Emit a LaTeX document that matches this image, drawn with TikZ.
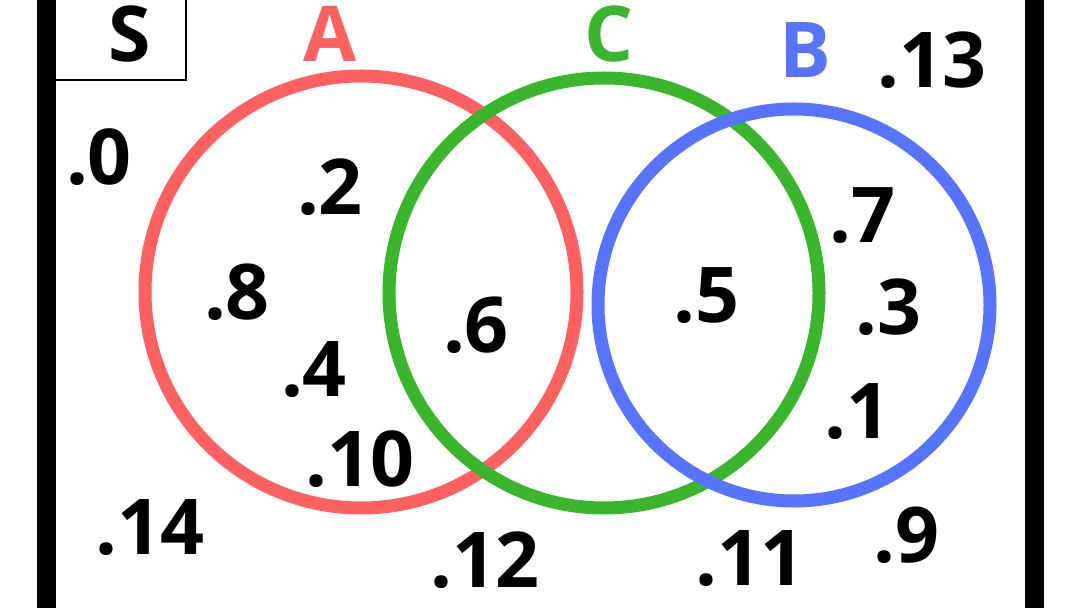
\documentclass[tikz,border=0pt]{standalone}
\usepackage{fontspec}
\setmainfont{Open Sans}
\usepackage{tikz}
\usetikzlibrary{positioning}
\definecolor{vennRed}{RGB}{255,96,96}
\definecolor{vennGreen}{RGB}{58,182,44}
\definecolor{vennBlue}{RGB}{86,116,255}

\begin{document}
\begin{tikzpicture}[x=0.5pt,y=-0.5pt,
  num/.style={anchor=base,inner sep=0pt,font=\fontsize{38.5}{46}\selectfont\bfseries},
  ring/.style={line width=6.5pt},
  bar/.style={fill=black,draw=none}]
  \useasboundingbox (0,0) rectangle (1080,608);
  % frame of the sample space
  \fill[bar] (37,0) rectangle (56,608);
  \fill[bar] (1025,0) rectangle (1044,608);
  \draw[line width=1.25pt] (55,-5) -- (186,-5) -- (186,80) -- (55,80);
  \node[num] (s) at (130,62) {S};
  % circles
  \coordinate (ca) at (361,292);
  \coordinate (cc) at (604,293);
  \coordinate (cb) at (794,305);
  \draw[ring,draw=vennRed] (ca) circle[radius=216];
  \draw[ring,draw=vennGreen] (cc) circle[radius=215];
  \draw[ring,draw=vennBlue] (cb) circle[radius=196];
  \node[num,text=vennRed] (la) at (330,62) {A};
  \node[num,text=vennGreen] (lc) at (609,62) {C};
  \node[num,text=vennBlue] (lb) at (805,78) {B};
  % outcomes
  \node[num] (n13) at (932,88) {.13};
  \node[num] (n0) at (99,185) {.0};
  \node[num] (n2) at (330,215) {.2};
  \node[num] (n8) at (237,320) {.8};
  \node[num] (n4) at (314,397) {.4};
  \node[num] (n10) at (360,487) {.10};
  \node[num] (n6) at (476,353) {.6};
  \node[num] (n5) at (706,323) {.5};
  \node[num] (n7) at (862,243) {.7};
  \node[num] (n3) at (888,335) {.3};
  \node[num] (n1) at (857,438) {.1};
  \node[num] (n14) at (150,554) {.14};
  \node[num] (n12) at (485,587) {.12};
  \node[num] (n11) at (750,585) {.11};
  \node[num] (n9) at (906,562) {.9};
\end{tikzpicture}
\end{document}
